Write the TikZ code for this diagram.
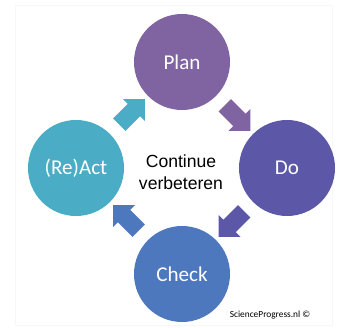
\documentclass[tikz,border=0pt]{standalone}
\usepackage{fontspec}
\setmainfont{Carlito}
\newfontfamily\centerfont{Liberation Sans}
\usetikzlibrary{shapes.arrows,calc}

\definecolor{plancol}{HTML}{8064A2}
\definecolor{docol}{HTML}{5D57A8}
\definecolor{checkcol}{HTML}{4E78BE}
\definecolor{actcol}{HTML}{4BACC6}

\begin{document}
\begin{tikzpicture}[
		phase/.style={circle, fill=#1, minimum size=2.88cm, inner sep=0pt, text=white, font=\fontsize{18}{20}\selectfont},
		turn/.style={single arrow, fill=#1, minimum height=1.08cm, inner xsep=0pt, inner ysep=0.255cm, single arrow head extend=0.2cm, single arrow tip angle=90}
	]
		% Draw frame
		\useasboundingbox (0,0) rectangle (10.11,9.81);
		\draw[gray!6] (0.45,0.06) rectangle (9.96,9.66);
		
		% Draw phases
		\node[phase=plancol] (plan) at (5.46,7.95) {Plan};
		\node[phase=docol] (do) at (8.61,4.77) {Do};
		\node[phase=checkcol] (check) at (5.46,1.59) {Check};
		\node[phase=actcol] (act) at (2.28,4.77) {(Re)Act};
		
		% Draw arrows
		\node[turn=plancol, rotate=-45] (pd) at ($(plan)!0.5!(do)$) {};
		\node[turn=docol, rotate=-135] (dc) at ($(do)!0.5!(check)$) {};
		\node[turn=checkcol, rotate=135] (ca) at ($(check)!0.5!(act)$) {};
		\node[turn=actcol, rotate=45] (ap) at ($(act)!0.5!(plan)$) {};
		
		% Label centre and source
		\node[align=center, font=\centerfont\fontsize{15}{18.5}\selectfont] (centre) at (5.43,4.65) {Continue\\verbeteren};
		\node[font=\fontsize{8}{9}\selectfont] (source) at (8.1,0.36) {ScienceProgress.nl ©};
		
	\end{tikzpicture}
\end{document}
